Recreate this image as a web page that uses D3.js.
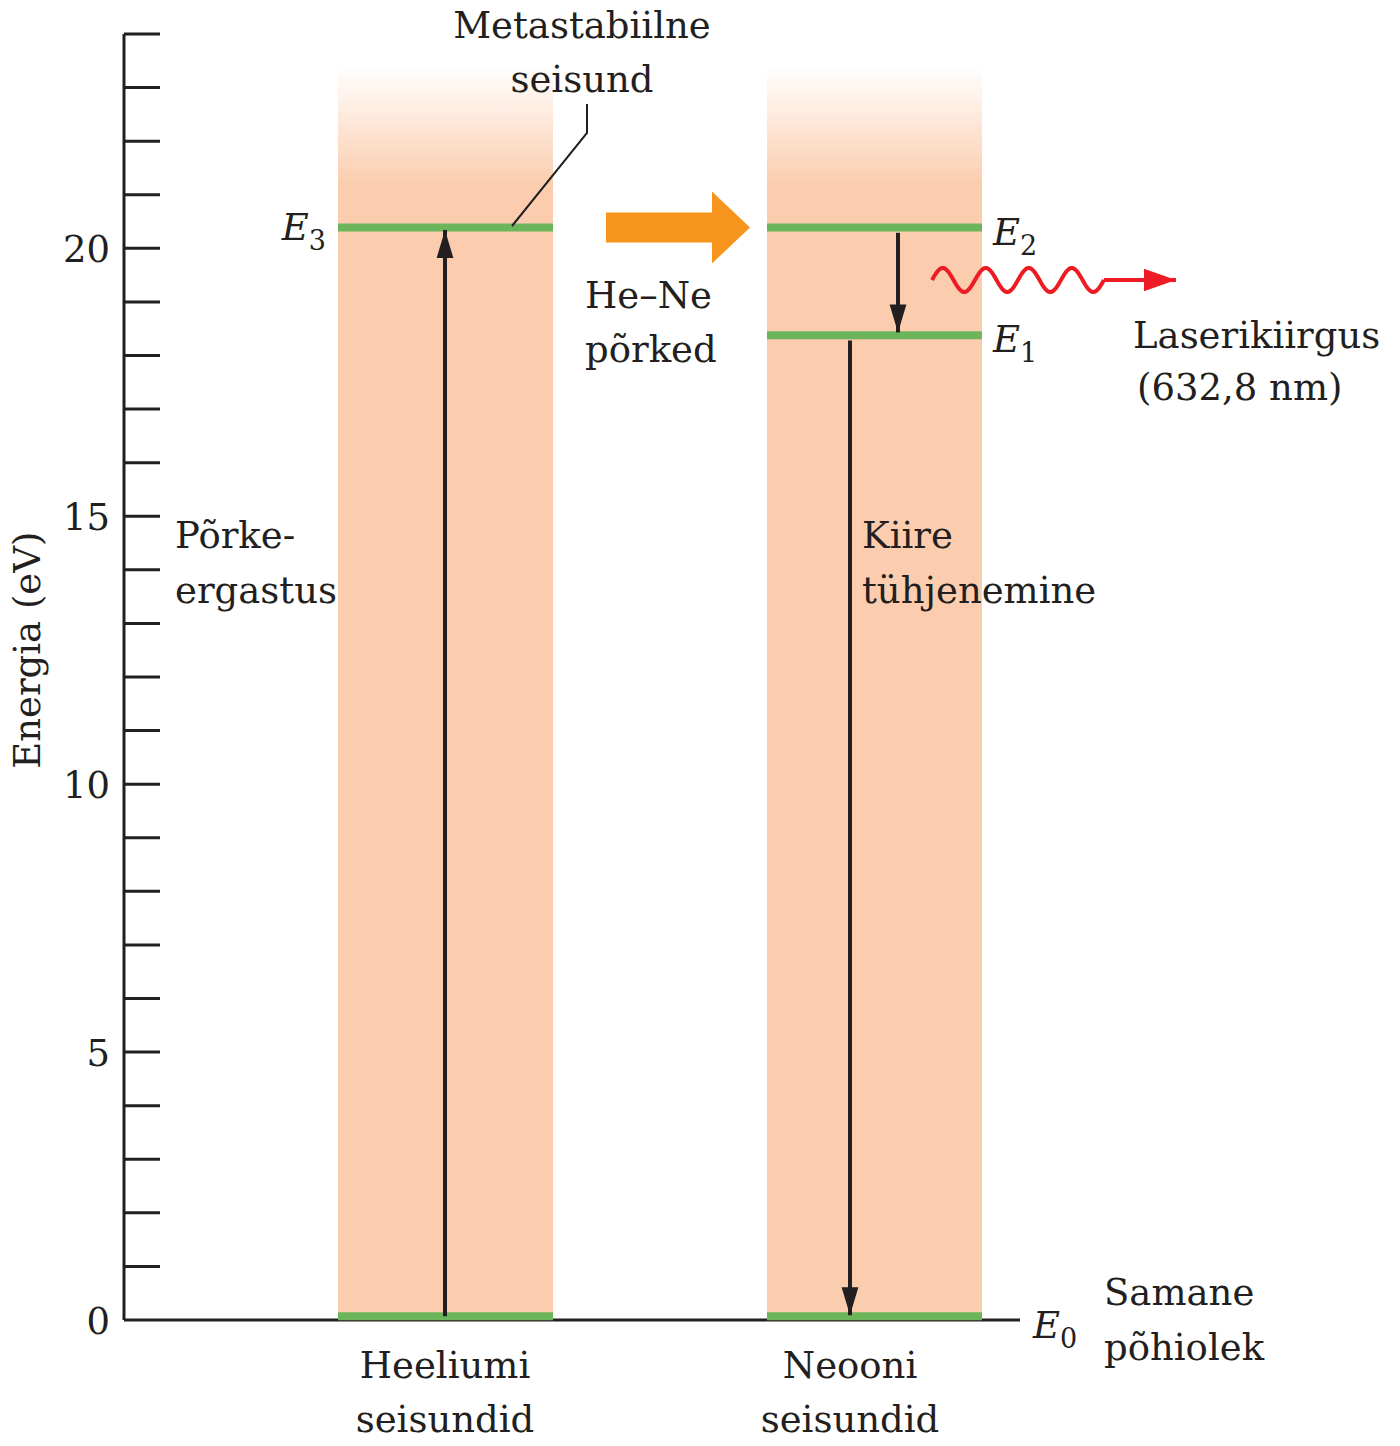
<!DOCTYPE html>
<html><head><meta charset="utf-8">
<script src="https://cdn.jsdelivr.net/npm/d3@7"></script>
<style>body{margin:0;background:#fff}svg text{font-family:"DejaVu Serif","Liberation Serif",serif;fill:#231f20}</style>
</head><body>
<svg id="c" width="1400" height="1446"></svg>
<script>
// energy levels (eV)
var levelNames = ["E3", "E2", "E1", "E0"];
var levelValues = [20.39, 20.39, 18.38, 0.07];
var columns = ["Heeliumi", "Neooni"];
var majorTicks = [0, 5, 10, 15, 20];

var svg = d3.select("#c");
var y = d3.scaleLinear().domain([0, 24]).range([1320, 34]);

var colX = {He: [338, 553], Ne: [767, 982]};
var FS = 37;

var defs = svg.append("defs");
var g = defs.append("linearGradient").attr("id", "fade").attr("x1", 0).attr("y1", 0).attr("x2", 0).attr("y2", 1);
g.append("stop").attr("offset", 0).attr("stop-color", "#fbcdae").attr("stop-opacity", 0);
g.append("stop").attr("offset", 1).attr("stop-color", "#fbcdae").attr("stop-opacity", 1);
var ah = defs.append("marker").attr("id", "ah").attr("viewBox", "0 0 10 10").attr("refX", 10).attr("refY", 5)
  .attr("markerWidth", 7).attr("markerHeight", 7).attr("markerUnits", "strokeWidth").attr("orient", "auto");
ah.append("path").attr("d", "M0,2L10,5L0,8Z").attr("fill", "#231f20");
var rh = defs.append("marker").attr("id", "rh").attr("viewBox", "0 0 10 10").attr("refX", 10).attr("refY", 5)
  .attr("markerWidth", 8).attr("markerHeight", 8).attr("markerUnits", "strokeWidth").attr("orient", "auto");
rh.append("path").attr("d", "M0,1.5L10,5L0,8.5Z").attr("fill", "#ed1c24");

// columns
Object.values(colX).forEach(function (c) {
  svg.append("rect").attr("x", c[0]).attr("width", c[1] - c[0]).attr("y", y(23.4)).attr("height", y(21.2) - y(23.4)).attr("fill", "url(#fade)");
  svg.append("rect").attr("x", c[0]).attr("width", c[1] - c[0]).attr("y", y(21.2)).attr("height", y(0) - y(21.2)).attr("fill", "#fbcdae");
});

// axis
svg.append("line").attr("x1", 124).attr("x2", 124).attr("y1", y(24)).attr("y2", y(0)).attr("stroke", "#231f20").attr("stroke-width", 3);
svg.append("line").attr("x1", 124).attr("x2", 1020).attr("y1", y(0)).attr("y2", y(0)).attr("stroke", "#231f20").attr("stroke-width", 3);
svg.selectAll(".tk").data(d3.range(1, 25)).enter().append("line")
  .attr("x1", 124).attr("x2", 160).attr("y1", function (d) { return y(d); }).attr("y2", function (d) { return y(d); })
  .attr("stroke", "#231f20").attr("stroke-width", 3);
svg.selectAll(".tl").data(majorTicks).enter().append("text")
  .attr("x", 110).attr("y", function (d) { return y(d) + 14; }).attr("text-anchor", "end").attr("font-size", FS)
  .text(function (d) { return d; });
svg.append("text").attr("transform", "translate(40," + y(12.5) + ") rotate(-90)").attr("text-anchor", "middle")
  .attr("font-size", FS).text("Energia (eV)");

// levels
function lvl(c, v) {
  svg.append("line").attr("x1", c[0]).attr("x2", c[1]).attr("y1", y(v)).attr("y2", y(v)).attr("stroke", "#6db55b").attr("stroke-width", 8);
}
lvl(colX.He, levelValues[0]); lvl(colX.Ne, levelValues[1]); lvl(colX.Ne, levelValues[2]);
lvl(colX.He, levelValues[3]); lvl(colX.Ne, levelValues[3]);

// transitions
function arr(x0, v0, v1) {
  svg.append("line").attr("x1", x0).attr("x2", x0).attr("y1", y(v0)).attr("y2", y(v1))
    .attr("stroke", "#231f20").attr("stroke-width", 4).attr("marker-end", "url(#ah)");
}
arr(445, levelValues[3], levelValues[0] - 0.05);
arr(898, levelValues[1] - 0.1, levelValues[2] + 0.05);
arr(850, levelValues[2] - 0.1, levelValues[3] + 0.02);

// He-Ne orange arrow
var yc = y(levelValues[0]);
svg.append("path").attr("fill", "#f7941d")
  .attr("d", "M606," + (yc - 15) + "L712," + (yc - 15) + "L712," + (yc - 36) + "L750," + yc + "L712," + (yc + 36) + "L712," + (yc + 15) + "L606," + (yc + 15) + "Z");

// laser wave
var wave = d3.range(0, 4.001, 0.02).map(function (t) { return [932 + t * 43, 280 - 12 * Math.sin(t * 2 * Math.PI)]; });
svg.append("path").attr("d", d3.line()(wave)).attr("fill", "none").attr("stroke", "#ed1c24").attr("stroke-width", 4);
svg.append("line").attr("x1", 1104).attr("x2", 1176).attr("y1", 280).attr("y2", 280)
  .attr("stroke", "#ed1c24").attr("stroke-width", 4).attr("marker-end", "url(#rh)");

// leader for metastable
svg.append("polyline").attr("points", "512,226 587,133 587,104").attr("fill", "none").attr("stroke", "#231f20").attr("stroke-width", 2);

// texts
function txt(s, xx, yy, anchor) {
  return svg.append("text").attr("x", xx).attr("y", yy).attr("text-anchor", anchor || "start").attr("font-size", FS).text(s);
}
txt("Metastabiilne", 582, 38, "middle"); txt("seisund", 582, 92, "middle");
txt("He–Ne", 585, 308); txt("põrked", 585, 362);
txt("Põrke-", 175, 548); txt("ergastus", 175, 603);
txt("Kiire", 862, 548); txt("tühjenemine", 862, 603);
txt("Laserikiirgus", 1133, 348); txt("(632,8 nm)", 1137, 400);
txt("Samane", 1104, 1305); txt("põhiolek", 1104, 1360);
txt("Heeliumi", 445, 1378, "middle"); txt("seisundid", 445, 1432, "middle");
txt("Neooni", 850, 1378, "middle"); txt("seisundid", 850, 1432, "middle");

function sub(idx, xx, yy, anchor) {
  var t = svg.append("text").attr("x", xx).attr("y", yy).attr("text-anchor", anchor || "start").attr("font-size", FS);
  t.append("tspan").attr("font-style", "italic").text("E");
  t.append("tspan").attr("font-size", 27).attr("dy", 10).text(idx);
}
sub("3", 326, 240, "end");
sub("2", 993, 245);
sub("1", 993, 352);
sub("0", 1033, 1338);
</script>
</body></html>
